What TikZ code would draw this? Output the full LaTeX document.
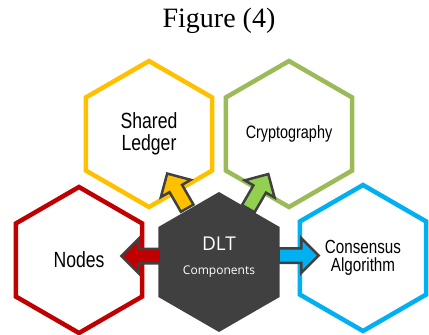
\documentclass[tikz,border=0pt]{standalone}
\usepackage{fontspec}
\setmainfont{Liberation Serif}
\newfontfamily\narrowsans[FakeStretch=0.8]{Liberation Sans}
\newfontfamily\uisans{Open Sans}
\usetikzlibrary{shapes.geometric,shapes.arrows}
\definecolor{ledgeryellow}{HTML}{FFC000}
\definecolor{cryptogreen}{HTML}{9BBB59}
\definecolor{arrowgreen}{HTML}{92D050}
\definecolor{nodesred}{HTML}{C00000}
\definecolor{consblue}{HTML}{00B0F0}
\definecolor{dltgray}{HTML}{404040}
\tikzset{
  hexa/.style={regular polygon, regular polygon sides=6, shape border rotate=30,
    minimum size=146pt, inner sep=0pt, line width=4.5pt, align=center, text=black},
  blockarrow/.style={single arrow, draw=dltgray, line width=2.5pt, inner sep=0pt,
    minimum height=40pt, single arrow head extend=10pt, single arrow tip angle=90}
}
\begin{document}
\begin{tikzpicture}[x=1pt,y=-1pt]
\useasboundingbox (0,0) rectangle (429,335);
    \node (title) at (219,21) {\fontsize{28}{30}\selectfont Figure (4)};
    \node [hexa, draw=ledgeryellow, font=\narrowsans\fontsize{22}{22.3}\selectfont] (ledger) at (149,134) {Shared\\Ledger};
    \node [hexa, draw=cryptogreen, font=\narrowsans\fontsize{18}{20}\selectfont] (crypto) at (289,134) {Cryptography};
    \node [hexa, draw=nodesred, font=\narrowsans\fontsize{22}{24}\selectfont] (nodes) at (79,260) {Nodes};
    \node [hexa, draw=consblue, font=\narrowsans\fontsize{19}{18}\selectfont] (consensus) at (363,258) {Consensus\\Algorithm};
    \node [hexa, fill=dltgray, draw=none, minimum size=140pt] (dlt) at (219,262) {};
    \node [text=white, font=\uisans\fontsize{19}{20}\selectfont] (dltname) at (219,244) {DLT};
    \node [text=white, font=\uisans\fontsize{12}{14}\selectfont] (dltsub) at (219,272) {Components};
    \node [blockarrow, fill=nodesred, rotate=180] (tonodes) at (145,256) {\rule{0pt}{12pt}};
    \node [blockarrow, fill=consblue] (tocons) at (295,255.5) {\rule{0pt}{12pt}};
    \node [blockarrow, fill=ledgeryellow, rotate=120] (toledger) at (179,194) {\rule{0pt}{12pt}};
    \node [blockarrow, fill=arrowgreen, rotate=60] (tocrypto) at (256.5,194.5) {\rule{0pt}{12pt}};
\end{tikzpicture}
\end{document}
